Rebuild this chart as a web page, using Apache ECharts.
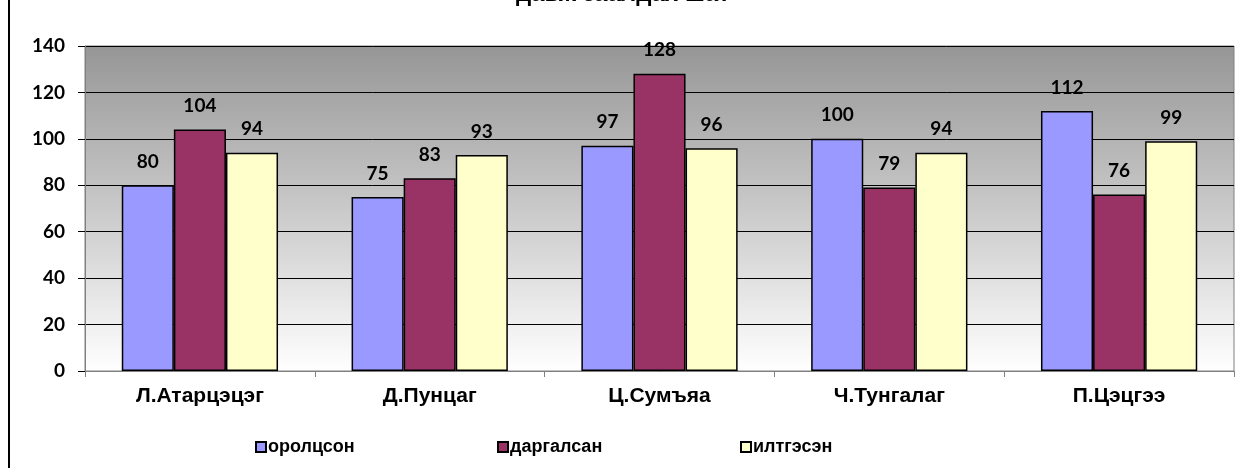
<!DOCTYPE html>
<html><head><meta charset="utf-8">
<script src="https://cdn.jsdelivr.net/npm/echarts@6/dist/echarts.min.js"></script>
<style>html,body{margin:0;padding:0;background:#fff}#c{width:1246px;height:468px}</style>
</head><body><div id="c"></div>
<script>
const titleText = 'давж заалдах шат';
const categories = ['Л.Атарцэцэг', 'Д.Пунцаг', 'Ц.Сумъяа', 'Ч.Тунгалаг', 'П.Цэцгээ'];
const seriesNames = ['оролцсон', 'даргалсан', 'илтгэсэн'];
const orolcson = [80, 75, 97, 100, 112];
const dargalsan = [104, 83, 128, 79, 76];
const iltgesen = [94, 93, 96, 94, 99];
const colors = ['#9999FF', '#993366', '#FFFFCC'];
const yTicks = [0, 20, 40, 60, 80, 100, 120, 140];

const chart = echarts.init(document.getElementById('c'));
const values = [orolcson, dargalsan, iltgesen];
const legendLefts = [255, 497, 740];
chart.setOption({
  animation: false,
  title: {
    text: titleText, left: 'center', top: -18, padding: 0,
    textStyle: {fontFamily: 'Liberation Sans', fontWeight: 'bold', fontSize: 24, color: '#000'}
  },
  graphic: [{type: 'rect', shape: {x: 8, y: 0, width: 2, height: 468}, style: {fill: '#000'}}],
  legend: seriesNames.map((n, i) => ({
    data: [n], left: legendLefts[i], top: 438, padding: 0, itemWidth: 10, itemHeight: 10, itemGap: 0,
    icon: 'rect',
    textStyle: {fontFamily: 'Liberation Sans', fontWeight: 'bold', fontSize: 18, color: '#000', padding: [0, 0, 0, -3]},
    itemStyle: {borderColor: '#000', borderWidth: 2}
  })),
  grid: {
    left: 85, right: 12, top: 46, bottom: 97, show: true,
    borderColor: '#808080', borderWidth: 1,
    backgroundColor: new echarts.graphic.LinearGradient(0, 0, 0, 1, [
      {offset: 0, color: '#969696'}, {offset: 0.45, color: '#c4c4c4'}, {offset: 1, color: '#ffffff'}
    ])
  },
  xAxis: {
    type: 'category', data: categories,
    axisLine: {lineStyle: {color: '#808080', width: 1}},
    axisTick: {show: true, length: 6, lineStyle: {color: '#808080'}},
    axisLabel: {fontFamily: 'Liberation Sans', fontWeight: 'bold', fontSize: 21, color: '#000', margin: 15}
  },
  yAxis: {
    type: 'value', min: 0, max: 140, interval: 20,
    axisLine: {show: true, lineStyle: {color: '#808080', width: 1}},
    axisTick: {show: true, length: 7, lineStyle: {color: '#000'}},
    splitLine: {lineStyle: {color: '#000', width: 1}},
    axisLabel: {fontFamily: 'Lato', fontWeight: 'bold', fontSize: 19, color: '#000', margin: 20,
      formatter: v => yTicks.includes(v) ? String(v) : ''}
  },
  series: values.map((d, i) => ({
    name: seriesNames[i], type: 'bar', data: d,
    barGap: '0%', barCategoryGap: '32%',
    itemStyle: {color: colors[i], borderColor: '#000', borderWidth: 1.5},
    label: {show: true, position: 'top', distance: 14,
      fontFamily: 'Lato', fontWeight: 'bold', fontSize: 19, color: '#000'}
  }))
});
</script></body></html>
